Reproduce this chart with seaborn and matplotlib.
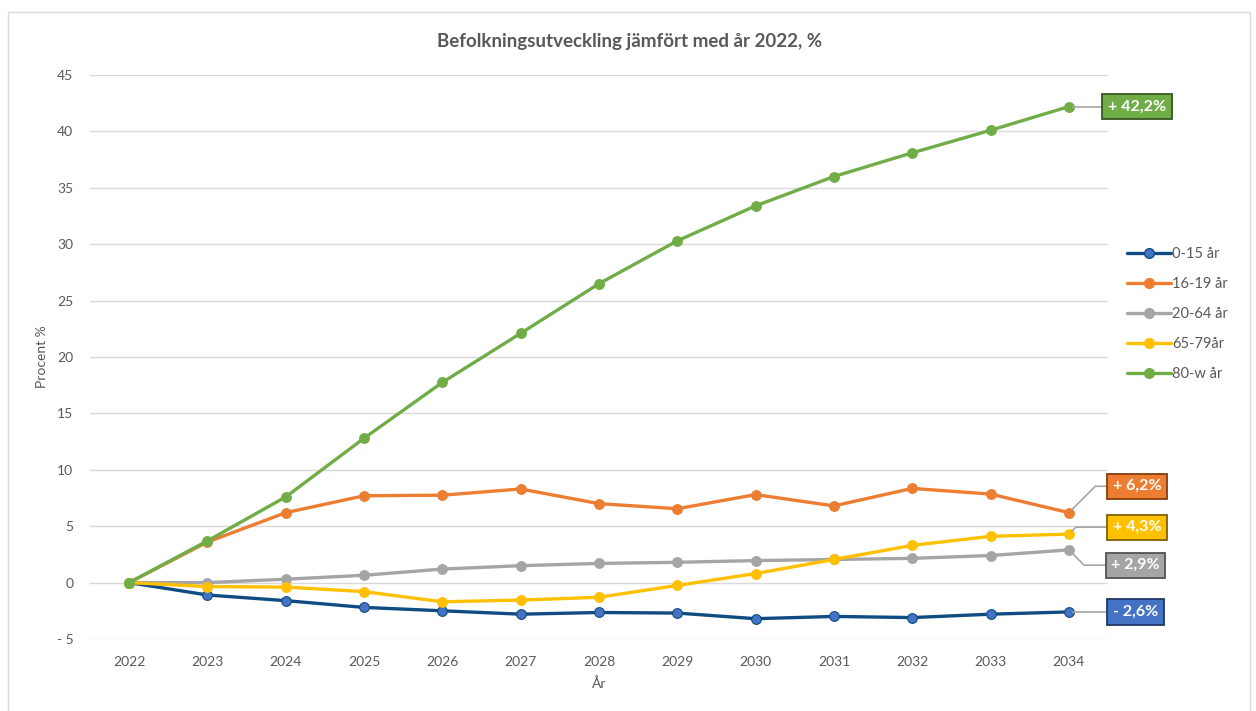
import numpy as np
import pandas as pd
import matplotlib
matplotlib.use("Agg")
import matplotlib.pyplot as plt
from matplotlib.patches import Rectangle
import seaborn as sns

# ── Data ────────────────────────────────────────────────────────────────────
years = list(range(2022, 2035))
groups = ["0-15 år", "16-19 år", "20-64 år", "65-79år", "80-w år"]

v_0_15 = [0, -1.1, -1.6, -2.2, -2.5, -2.8, -2.65, -2.7, -3.2, -3.0, -3.1, -2.8, -2.6]
v_16_19 = [0, 3.6, 6.2, 7.7, 7.75, 8.3, 7.0, 6.55, 7.8, 6.8, 8.35, 7.85, 6.2]
v_20_64 = [0, 0.0, 0.3, 0.65, 1.2, 1.5, 1.7, 1.8, 1.95, 2.05, 2.15, 2.4, 2.9]
v_65_79 = [0, -0.35, -0.4, -0.8, -1.7, -1.55, -1.3, -0.25, 0.8, 2.05, 3.3, 4.1, 4.3]
v_80_w = [0, 3.7, 7.6, 12.8, 17.75, 22.1, 26.5, 30.3, 33.4, 36.0, 38.1, 40.1, 42.2]

end_labels = ["- 2,6%", "+ 6,2%", "+ 2,9%", "+ 4,3%", "+ 42,2%"]

series = [v_0_15, v_16_19, v_20_64, v_65_79, v_80_w]
df = pd.DataFrame({
    "År": years * len(groups),
    "Grupp": np.repeat(groups, len(years)),
    "Procent": np.concatenate(series),
})

# ── Styling ─────────────────────────────────────────────────────────────────
sns.set_style("white")
plt.rcParams["font.family"] = ["Lato", "DejaVu Sans"]

TXT = "#595959"
line_colors = ["#0F4C81", "#ED7D31", "#A5A5A5", "#FFC000", "#70AD47"]
marker_colors = ["#4472C4", "#ED7D31", "#A5A5A5", "#FFC000", "#70AD47"]
box_face = ["#4472C4", "#ED7D31", "#A5A5A5", "#FFC000", "#70AD47"]
box_edge = ["#203864", "#843C0C", "#525252", "#7F6000", "#375623"]
# label offsets (points) from last point, and leader angle at the point
offsets = [(48, 0), (49, 19), (48, -11), (49, 5), (49, 0)]
leader_angle = [45, 45, -45, 45, 45]

fig = plt.figure(figsize=(12.56, 7.11), dpi=100)
ax = fig.add_axes([90 / 1256, 1 - 639 / 711, (1108 - 90) / 1256, (639 - 75) / 711])

# outer chart border
fig.patches.append(Rectangle((8 / 1256, -0.01), (1250 - 8) / 1256, 1 - 12 / 711 + 0.01,
                             transform=fig.transFigure, fill=False,
                             edgecolor="#D9D9D9", linewidth=1.0))

palette = dict(zip(groups, line_colors))
sns.lineplot(data=df, x="År", y="Procent", hue="Grupp", palette=palette,
             hue_order=groups, marker="o", markersize=7, linewidth=2.4,
             ax=ax, legend=False)

for line, mc, lc in zip(ax.get_lines(), marker_colors, line_colors):
    line.set_markerfacecolor(mc)
    line.set_markeredgecolor(lc)
    line.set_markeredgewidth(0.8)

ax.set_xlim(2021.5, 2034.5)
ax.set_ylim(-5, 45)
ax.set_xticks(years)
ax.set_xticklabels([str(y) for y in years])
ax.set_yticks(range(-5, 46, 5))
ax.set_yticklabels(["- 5"] + [str(v) for v in range(0, 46, 5)])
ax.tick_params(axis="both", length=0, labelsize=10, labelcolor=TXT, pad=12)
ax.grid(axis="y", color="#D9D9D9", linewidth=1.0)
for s in ax.spines.values():
    s.set_visible(False)

ax.set_xlabel("År", fontsize=10, color=TXT, labelpad=7)
ax.set_ylabel("Procent %", fontsize=10, color=TXT, labelpad=6)
fig.text(630 / 1256, 1 - 42 / 711, "Befolkningsutveckling jämfört med år 2022, %",
         ha="center", va="center", fontsize=13.5, fontweight="bold", color=TXT)

# end-of-line labels
for vals, lab, fc, ec, off, ang in zip(series, end_labels, box_face, box_edge,
                                       offsets, leader_angle):
    ax.annotate(lab, xy=(years[-1], vals[-1]), xytext=off, textcoords="offset points",
                ha="center", va="center", fontsize=11.5, fontweight="bold", color="white",
                bbox=dict(boxstyle="square,pad=0.35", facecolor=fc, edgecolor=ec, linewidth=1.3),
                arrowprops=dict(arrowstyle="-", color="#A6A6A6", linewidth=1.2,
                                shrinkA=0, shrinkB=3,
                                connectionstyle=f"angle,angleA=0,angleB={ang},rad=0"),
                annotation_clip=False)

# legend
handles = [plt.Line2D([], [], color=lc, marker="o", markersize=7, linewidth=2.4,
                      markerfacecolor=mc, markeredgecolor=lc)
           for lc, mc in zip(line_colors, marker_colors)]
leg = fig.legend(handles, groups, loc="upper left",
                 bbox_to_anchor=(1114 / 1256, 1 - 234 / 711), frameon=False,
                 fontsize=10.5, labelspacing=1.1, handlelength=3.0, handletextpad=0.1)
for t in leg.get_texts():
    t.set_color(TXT)

fig.savefig("out.png", dpi=100)
